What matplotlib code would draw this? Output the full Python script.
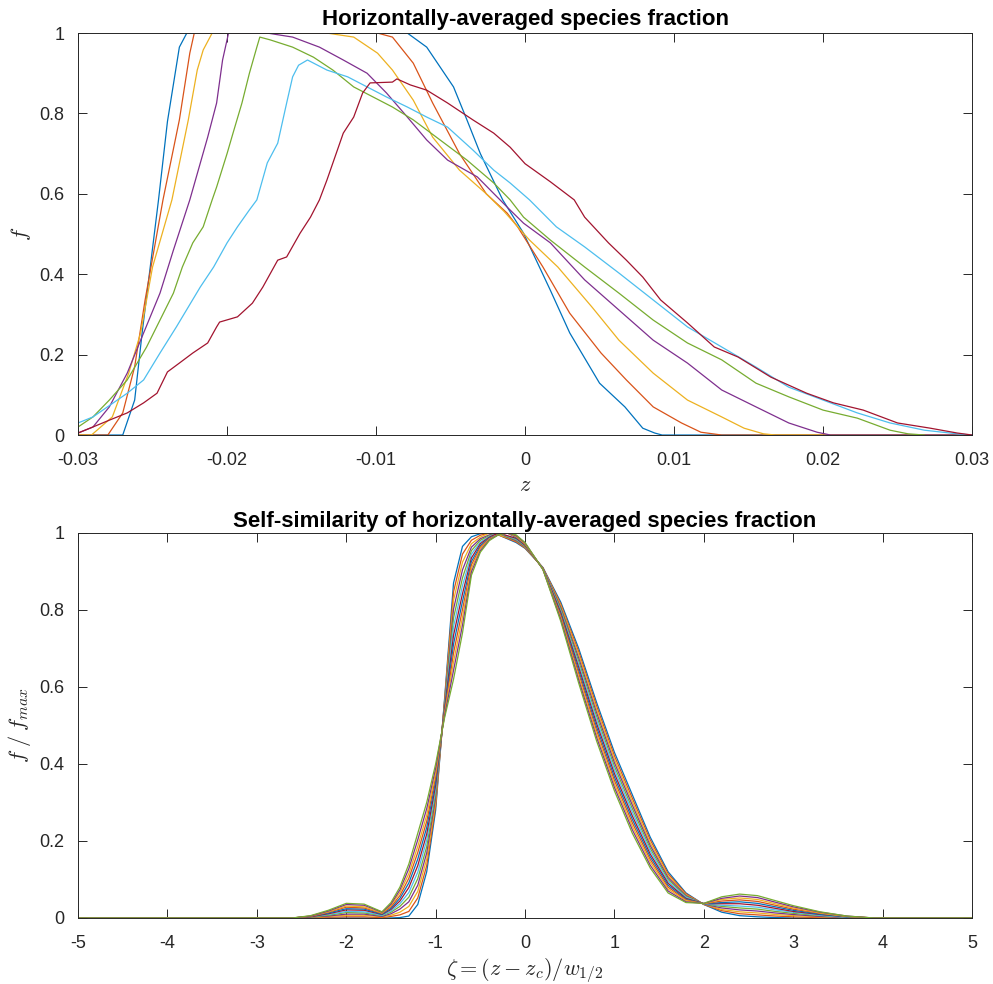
import matplotlib
matplotlib.use("Agg")
import matplotlib.pyplot as plt

plt.rcParams['font.family'] = ['Liberation Sans', 'DejaVu Sans']
plt.rcParams['mathtext.fontset'] = 'cm'
plt.rcParams['axes.unicode_minus'] = False

# ---------------- top panel data: horizontally-averaged species fraction ----------------
z_blue = [-0.030, -0.0270, -0.0262, -0.0257, -0.0246, -0.0240, -0.0232, -0.0227, -0.0079, -0.0066,
          -0.0048, -0.0039, -0.0030, -0.0015, -0.0001, 0.0017, 0.0030, 0.0050, 0.0067, 0.0079,
          0.0087, 0.0092, 0.030]
f_blue = [0, 0, 0.087, 0.254, 0.585, 0.78, 0.965, 1.0, 1.0, 0.965,
          0.866, 0.784, 0.70, 0.585, 0.502, 0.36, 0.254, 0.129, 0.07, 0.017,
          0.005, 0, 0]

z_orange = [-0.030, -0.0280, -0.0270, -0.0262, -0.0255, -0.0243, -0.0232, -0.0225, -0.0222, -0.0099,
            -0.0089, -0.0075, -0.0062, -0.0044, -0.0026, -0.0012, -0.0005, 0.0012, 0.0030, 0.0051,
            0.0068, 0.0086, 0.0105, 0.0118, 0.0132, 0.030]
f_orange = [0, 0, 0.055, 0.17, 0.336, 0.585, 0.784, 0.95, 1.0, 1.0,
            0.99, 0.925, 0.826, 0.70, 0.60, 0.552, 0.518, 0.418, 0.303, 0.204,
            0.137, 0.07, 0.03, 0.007, 0, 0]

z_yellow = [-0.030, -0.0291, -0.0277, -0.0266, -0.0258, -0.0250, -0.0237, -0.0226, -0.0220, -0.0216,
            -0.0210, -0.0133, -0.0115, -0.0099, -0.0089, -0.0075, -0.0062, -0.0044, -0.0026, -0.0014,
            0.0003, 0.0022, 0.0045, 0.0063, 0.0086, 0.0109, 0.0132, 0.0147, 0.0160, 0.0168, 0.030]
f_yellow = [0, 0, 0.045, 0.154, 0.254, 0.418, 0.585, 0.784, 0.908, 0.958,
            1.0, 1.0, 0.99, 0.95, 0.908, 0.833, 0.741, 0.659, 0.60, 0.556,
            0.485, 0.418, 0.318, 0.236, 0.154, 0.087, 0.045, 0.017, 0.003, 0, 0]

z_purple = [-0.0300, -0.0290, -0.0279, -0.0267, -0.0256, -0.0245, -0.0236, -0.0225, -0.0213, -0.0207,
            -0.0203, -0.0199, -0.0173, -0.0156, -0.0138, -0.0122, -0.0106, -0.0093, -0.0079, -0.0066,
            -0.0052, -0.0032, -0.0012, -0.0001, 0.0017, 0.0040, 0.0063, 0.0086, 0.0109, 0.0132,
            0.0155, 0.0177, 0.0196, 0.0205, 0.0300]
f_purple = [0.005, 0.02, 0.07, 0.154, 0.254, 0.353, 0.46, 0.585, 0.741, 0.826,
            0.933, 1.0, 1.0, 0.99, 0.965, 0.933, 0.90, 0.851, 0.791, 0.734,
            0.684, 0.642, 0.567, 0.527, 0.478, 0.386, 0.311, 0.236, 0.179, 0.112,
            0.07, 0.03, 0.007, 0, 0]

z_green = [-0.0300, -0.0290, -0.0279, -0.0267, -0.0254, -0.0245, -0.0236, -0.0230, -0.0223, -0.0216,
           -0.0210, -0.0207, -0.0200, -0.0196, -0.0190, -0.0185, -0.0180, -0.0178, -0.0171, -0.0156,
           -0.0142, -0.0129, -0.0115, -0.0102, -0.0089, -0.0075, -0.0057, -0.0039, -0.0021, -0.0010,
           -0.0001, 0.0017, 0.0040, 0.0063, 0.0086, 0.0109, 0.0132, 0.0155, 0.0177, 0.0200,
           0.0223, 0.0245, 0.0257, 0.0268]
f_green = [0.02, 0.045, 0.087, 0.137, 0.219, 0.286, 0.353, 0.418, 0.478, 0.518,
           0.585, 0.617, 0.70, 0.751, 0.826, 0.90, 0.965, 0.99, 0.983, 0.965,
           0.94, 0.908, 0.866, 0.841, 0.816, 0.784, 0.734, 0.684, 0.627, 0.585,
           0.542, 0.485, 0.418, 0.353, 0.286, 0.229, 0.187, 0.129, 0.095, 0.062,
           0.042, 0.012, 0.003, 0]

z_cyan = [-0.0300, -0.0290, -0.0267, -0.0256, -0.0245, -0.0234, -0.0218, -0.0209, -0.0200, -0.0193,
          -0.0185, -0.0180, -0.0173, -0.0166, -0.0160, -0.0156, -0.0152, -0.0146, -0.0133, -0.0119,
          -0.0106, -0.0093, -0.0079, -0.0066, -0.0052, -0.0035, -0.0021, -0.0010, 0.0003, 0.0021,
          0.0040, 0.0063, 0.0086, 0.0109, 0.0132, 0.0155, 0.0177, 0.0200, 0.0223, 0.0245,
          0.0268, 0.0290, 0.0300]
f_cyan = [0.03, 0.045, 0.104, 0.137, 0.204, 0.269, 0.368, 0.418, 0.478, 0.518,
          0.56, 0.585, 0.677, 0.726, 0.826, 0.891, 0.920, 0.933, 0.908, 0.891,
          0.866, 0.841, 0.816, 0.791, 0.766, 0.709, 0.659, 0.627, 0.585, 0.518,
          0.468, 0.403, 0.336, 0.269, 0.219, 0.169, 0.119, 0.087, 0.055, 0.03,
          0.012, 0.003, 0]

z_red = [-0.0300, -0.0290, -0.0279, -0.0267, -0.0256, -0.0247, -0.0240, -0.0232, -0.0223, -0.0213,
         -0.0207, -0.0205, -0.0193, -0.0183, -0.0176, -0.0166, -0.0160, -0.0151, -0.0144, -0.0138,
         -0.0133, -0.0122, -0.0115, -0.0109, -0.0104, -0.0089, -0.0086, -0.0077, -0.0066, -0.0052,
         -0.0035, -0.0021, -0.0010, 0.0000, 0.0017, 0.0033, 0.0040, 0.0056, 0.0068, 0.0079,
         0.0091, 0.0109, 0.0127, 0.0143, 0.0165, 0.0189, 0.0207, 0.0227, 0.0250, 0.0272,
         0.0290, 0.0300]
f_red = [0.005, 0.02, 0.037, 0.055, 0.08, 0.104, 0.157, 0.179, 0.204, 0.229,
         0.269, 0.281, 0.294, 0.328, 0.368, 0.435, 0.443, 0.502, 0.542, 0.585,
         0.634, 0.751, 0.791, 0.851, 0.876, 0.878, 0.886, 0.871, 0.858, 0.826,
         0.784, 0.751, 0.716, 0.675, 0.63, 0.585, 0.542, 0.478, 0.435, 0.393,
         0.336, 0.279, 0.219, 0.194, 0.144, 0.104, 0.08, 0.062, 0.03, 0.017,
         0.005, 0]

top_series = [(z_blue, f_blue), (z_orange, f_orange), (z_yellow, f_yellow), (z_purple, f_purple),
              (z_green, f_green), (z_cyan, f_cyan), (z_red, f_red)]

# ---------------- bottom panel data: self-similar profiles ----------------
zeta_grid = [-5.0, -2.6, -2.4, -2.2, -2.0, -1.8, -1.6, -1.5, -1.4, -1.3,
             -1.2, -1.1, -1.0, -0.9, -0.8, -0.7, -0.6, -0.5, -0.4, -0.3,
             -0.2, -0.1, 0.0, 0.2, 0.4, 0.6, 0.8, 1.0, 1.2, 1.4,
             1.6, 1.8, 2.0, 2.2, 2.4, 2.6, 2.8, 3.0, 3.3, 3.6,
             3.9, 5.0]

ff_profiles = [
    [0, 0, 0, 0, 0, 0, 0, 0, .001, .005,
     .035, .12, .28, .57, .87, .965, .99, .998, 1.0, .995,
     .985, .975, .96, .91, .82, .70, .56, .43, .32, .21,
     .12, .065, .035, .015, .006, .003, .001, 0, 0, 0, 0, 0],
    [0, 0, .001, .002, .003, .003, .001, .004, .008, .017,
     .052, .136, .291, .565, .847, .945, .981, .994, 1.0, .995,
     .986, .977, .961, .910, .815, .692, .551, .421, .311, .203,
     .115, .063, .035, .019, .011, .008, .005, .003, .001, 0, 0, 0],
    [0, 0, .001, .004, .007, .007, .003, .007, .015, .030,
     .069, .153, .302, .561, .825, .924, .972, .989, 1.0, .995,
     .988, .979, .963, .909, .811, .684, .542, .412, .302, .195,
     .110, .060, .036, .022, .016, .013, .009, .006, .003, .001, 0, 0],
    [0, 0, .002, .005, .010, .010, .004, .011, .023, .042,
     .085, .169, .313, .556, .802, .904, .963, .985, .995, 1.0,
     .989, .980, .964, .909, .806, .675, .533, .403, .293, .188,
     .105, .058, .036, .026, .021, .018, .013, .009, .004, .001, 0, 0],
    [0, 0, .002, .007, .014, .013, .006, .015, .030, .054,
     .102, .185, .324, .552, .779, .883, .954, .981, .993, 1.0,
     .990, .982, .965, .908, .802, .667, .524, .394, .284, .181,
     .100, .056, .036, .030, .026, .023, .017, .012, .006, .002, 0, 0],
    [0, 0, .003, .009, .017, .016, .007, .018, .037, .066,
     .119, .202, .335, .547, .756, .863, .945, .976, .991, 1.0,
     .992, .984, .967, .908, .797, .659, .515, .385, .275, .174,
     .095, .054, .036, .033, .031, .028, .021, .015, .007, .002, 0, 0],
    [0, 0, .003, .011, .021, .020, .009, .022, .044, .079,
     .136, .218, .345, .543, .734, .842, .935, .972, .989, 1.0,
     .993, .986, .968, .907, .793, .651, .505, .375, .265, .166,
     .090, .051, .037, .037, .037, .033, .025, .017, .009, .003, 0, 0],
    [0, 0, .004, .013, .024, .023, .010, .025, .051, .091,
     .153, .235, .356, .538, .711, .822, .926, .967, .987, .995,
     1.0, .988, .970, .907, .788, .643, .496, .366, .256, .159,
     .085, .049, .037, .040, .042, .038, .029, .020, .010, .003, 0, 0],
    [0, 0, .004, .015, .028, .026, .012, .029, .058, .103,
     .170, .251, .367, .534, .688, .801, .917, .963, .985, .995,
     1.0, .990, .971, .906, .784, .635, .487, .357, .247, .152,
     .080, .047, .037, .044, .047, .043, .033, .023, .012, .004, 0, 0],
    [0, 0, .005, .016, .031, .029, .013, .033, .066, .115,
     .186, .267, .378, .529, .665, .781, .908, .959, .984, .995,
     1.0, .991, .972, .906, .779, .626, .478, .348, .238, .145,
     .075, .045, .037, .048, .052, .048, .037, .026, .013, .004, 0, 0],
    [0, 0, .005, .018, .035, .033, .015, .036, .073, .128,
     .203, .284, .389, .525, .643, .760, .899, .954, .982, .995,
     1.0, .993, .974, .905, .775, .618, .469, .339, .229, .137,
     .070, .042, .038, .051, .057, .053, .041, .029, .015, .005, 0, 0],
    [0, 0, .006, .020, .038, .036, .016, .040, .080, .140,
     .220, .300, .400, .520, .620, .740, .890, .950, .980, .995,
     1.0, .995, .975, .905, .770, .610, .460, .330, .220, .130,
     .065, .040, .038, .055, .062, .058, .045, .032, .016, .005, 0, 0],
]

top_xticks = [-0.03, -0.02, -0.01, 0, 0.01, 0.02, 0.03]
top_xticklabels = ['-0.03', '-0.02', '-0.01', '0', '0.01', '0.02', '0.03']
yticks = [0, 0.2, 0.4, 0.6, 0.8, 1.0]
yticklabels = ['0', '0.2', '0.4', '0.6', '0.8', '1']
bot_xticks = [-5, -4, -3, -2, -1, 0, 1, 2, 3, 4, 5]
bot_xticklabels = ['-5', '-4', '-3', '-2', '-1', '0', '1', '2', '3', '4', '5']

colors = ['#0072BD', '#D95319', '#EDB120', '#7E2F8E', '#77AC30', '#4DBEEE', '#A2142F']
axcol = '#262626'

fig = plt.figure(figsize=(9.93, 9.84), dpi=100)
ax1 = fig.add_axes([0.0786, 0.5579, 0.9003, 0.4085])
ax2 = fig.add_axes([0.0786, 0.0671, 0.9003, 0.3913])


def style(ax):
    for s in ax.spines.values():
        s.set_color(axcol)
        s.set_linewidth(0.7)
    ax.tick_params(direction='in', length=6.5, width=0.7, top=True, right=True,
                   colors=axcol, labelsize=13)
    ax.tick_params(axis='x', pad=12)
    ax.tick_params(axis='y', pad=10)


for i, (zz, ff) in enumerate(top_series):
    ax1.plot(zz, ff, color=colors[i % 7], lw=0.9)
ax1.set_xlim(-0.03, 0.03)
ax1.set_ylim(0, 1)
ax1.set_xticks(top_xticks)
ax1.set_xticklabels(top_xticklabels)
ax1.set_yticks(yticks)
ax1.set_yticklabels(yticklabels)
style(ax1)
ax1.set_title('Horizontally-averaged species fraction', fontweight='bold', fontsize=16,
              color='black', pad=6)
ax1.set_xlabel(r'$z$', fontsize=16, color=axcol)
ax1.set_ylabel(r'$f$', fontsize=16, color=axcol)
ax1.xaxis.set_label_coords(0.5, -0.1)
ax1.yaxis.set_label_coords(-0.05, 0.5)

for i, ff in enumerate(ff_profiles):
    ax2.plot(zeta_grid, ff, color=colors[i % 7], lw=0.9)
ax2.set_xlim(-5, 5)
ax2.set_ylim(0, 1)
ax2.set_xticks(bot_xticks)
ax2.set_xticklabels(bot_xticklabels)
ax2.set_yticks(yticks)
ax2.set_yticklabels(yticklabels)
style(ax2)
ax2.set_title('Self-similarity of horizontally-averaged species fraction', fontweight='bold',
              fontsize=16, color='black', pad=4)
ax2.set_xlabel(r'$\zeta = (z - z_c)/w_{1/2}$', fontsize=16, color=axcol)
ax2.set_ylabel(r'$f\;/\;f_{max}$', fontsize=16, color=axcol)
ax2.xaxis.set_label_coords(0.5, -0.1)
ax2.yaxis.set_label_coords(-0.05, 0.5)

fig.savefig('out.png', dpi=100, facecolor='white')
